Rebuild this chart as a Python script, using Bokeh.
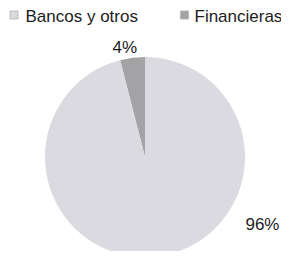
import math
from bokeh.plotting import figure
from bokeh.models import Range1d, ColumnDataSource
from bokeh.core.properties import value
from bokeh.embed import file_html
from bokeh.resources import INLINE

# data
categories = ["Financieras", "Bancos y otros"]
shares = [4, 96]
labels = ["4%", "96%"]
colors = ["#a3a3a5", "#dadae0"]
legend_order = ["Bancos y otros", "Financieras"]
legend_colors = ["#dadae0", "#a3a3a5"]

W, H = 281, 251
p = figure(width=W, height=H, frame_width=W, frame_height=H, output_backend="svg",
           toolbar_location=None, x_range=Range1d(0, W), y_range=Range1d(0, H),
           min_border=0, outline_line_color=None)
p.axis.visible = False
p.grid.visible = False
p.background_fill_color = "white"

cx, cy, R = 144.5, 94.5, 100
total = sum(shares)
starts, ends = [], []
a = math.pi / 2
for s in shares:
    starts.append(a)
    a += s / total * 2 * math.pi
    ends.append(a)

src = ColumnDataSource(dict(start=starts, end=ends, color=colors, cat=categories))
p.wedge(x=cx, y=cy, radius=R, radius_units="screen", start_angle="start", end_angle="end",
        fill_color="color", line_color=None, source=src)

# data labels (best-fit positions)
label_angles = [100.4, -29.9]
label_radii = [111.3, 135.5]
lx = [cx + r * math.cos(math.radians(t)) for r, t in zip(label_radii, label_angles)]
ly = [cy + r * math.sin(math.radians(t)) for r, t in zip(label_radii, label_angles)]
p.text(x=lx, y=ly, text=labels, text_font=value("Liberation Sans"), text_font_size="17px",
       text_align="center", text_baseline="middle", text_color="#1c1c1c")

# legend
mx = [13.5, 184]
my = [236.5, 236.5]
p.scatter(x=mx, y=my, marker="square", size=8, fill_color=legend_colors,
          line_color="#b0b0b0", line_width=0.8)
p.text(x=[25, 194], y=[235.5, 235.5], text=legend_order, text_font=value("Liberation Sans"),
       text_font_size="17px", text_align="left", text_baseline="middle", text_color="#1c1c1c")

open("out.html", "w").write(file_html(p, INLINE))
